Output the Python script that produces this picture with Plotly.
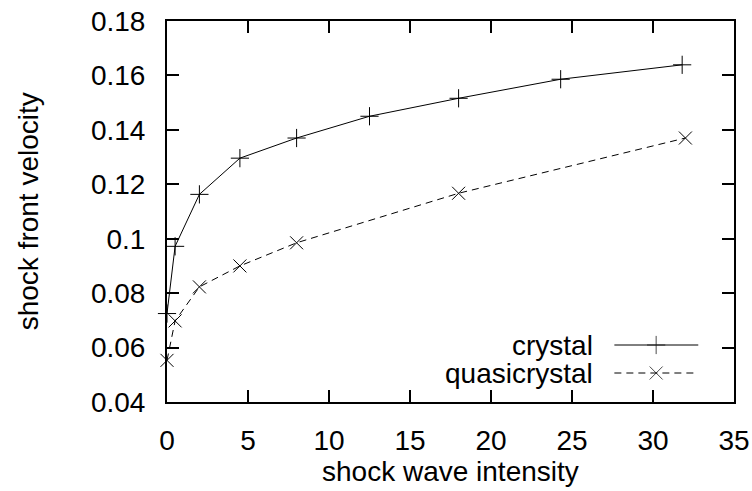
import plotly.graph_objects as go

# Data
crystal_x = [0, 0.5, 2, 4.5, 8, 12.5, 18, 24.3, 31.8]
crystal_y = [0.0725, 0.0972, 0.1163, 0.1296, 0.137, 0.145, 0.1516, 0.1586, 0.1639]
quasi_x = [0, 0.5, 2, 4.5, 8, 18, 32]
quasi_y = [0.0553, 0.0698, 0.0823, 0.090, 0.0985, 0.1167, 0.137]

x_ticks = [0, 5, 10, 15, 20, 25, 30, 35]
y_ticks = [0.04, 0.06, 0.08, 0.1, 0.12, 0.14, 0.16, 0.18]
y_tick_text = ["0.04", "0.06", "0.08", "0.1", "0.12", "0.14", "0.16", "0.18"]

series_names = ["crystal", "quasicrystal"]
x_title = "shock wave intensity"
y_title = "shock front velocity"

FONT = "Liberation Sans, Arial, sans-serif"
FS = 28
MS = 13

fig = go.Figure()

fig.add_trace(go.Scatter(
    x=crystal_x, y=crystal_y, mode="lines+markers", name=series_names[0],
    line=dict(color="black", width=1),
    marker=dict(symbol="cross-thin", size=MS, line=dict(color="black", width=1)),
    cliponaxis=False, showlegend=False))
fig.add_trace(go.Scatter(
    x=quasi_x, y=quasi_y, mode="lines+markers", name=series_names[1],
    line=dict(color="black", width=1, dash="7px,5px"),
    marker=dict(symbol="x-thin", size=MS, line=dict(color="black", width=1)),
    cliponaxis=False, showlegend=False))

# gnuplot-style key: text on the left, sample on the right
key_rows = [0.1496, 0.0761]
key_x0, key_xm, key_x1 = 0.789, 0.8627, 0.937
key_text_x = 0.7553
styles = [("solid", "cross-thin"), ("7px,5px", "x-thin")]
for name, ry, (dash, sym) in zip(series_names, key_rows, styles):
    fig.add_trace(go.Scatter(
        x=[key_x0, key_xm, key_x1], y=[ry, ry, ry], xaxis="x2", yaxis="y2",
        mode="lines+markers", line=dict(color="black", width=1, dash=dash),
        marker=dict(symbol=sym, size=[0, MS, 0], line=dict(color="black", width=1)),
        showlegend=False, hoverinfo="skip", cliponaxis=False))
    fig.add_annotation(text=name, xref="paper", yref="paper", x=key_text_x, y=ry,
                       xanchor="right", yanchor="middle", showarrow=False,
                       font=dict(family=FONT, size=FS, color="black"))

fig.add_annotation(text=x_title, xref="paper", yref="paper", x=0.5, y=-0.1837,
                   xanchor="center", yanchor="middle", showarrow=False,
                   font=dict(family=FONT, size=FS, color="black"))
fig.add_annotation(text=y_title, xref="paper", yref="paper", x=-0.2437, y=0.5,
                   xanchor="center", yanchor="middle", textangle=-90, showarrow=False,
                   font=dict(family=FONT, size=FS, color="black"))

axis_common = dict(showgrid=False, zeroline=False, showline=True, linecolor="black",
                   linewidth=2, mirror="ticks", ticks="inside", ticklen=12,
                   tickwidth=2, tickcolor="black", automargin=False,
                   ticklabeloverflow="allow",
                   tickfont=dict(family=FONT, size=FS, color="black"))

fig.update_layout(
    width=752, height=491,
    margin=dict(l=167, r=18, t=21, b=89),
    paper_bgcolor="white", plot_bgcolor="white",
    xaxis=dict(range=[0, 35], tickvals=x_ticks, ticktext=[str(v) for v in x_ticks],
               ticklabelstandoff=12, **axis_common),
    yaxis=dict(range=[0.04, 0.18], tickvals=y_ticks, ticktext=y_tick_text,
               ticklabelstandoff=14, **axis_common),
    xaxis2=dict(overlaying="x", range=[0, 1], visible=False),
    yaxis2=dict(overlaying="y", range=[0, 1], visible=False),
)

# Remove the browser's default 8px body margin so the figure fills the window.
fig.write_html("out.html", config={"displayModeBar": False},
               post_script="document.body.style.margin='0';")
